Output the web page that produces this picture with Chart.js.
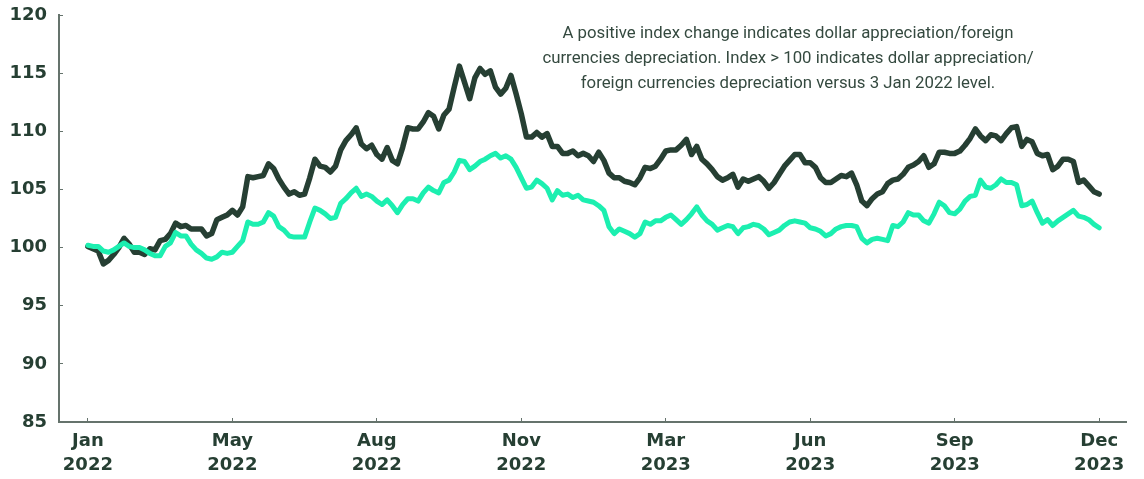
<!DOCTYPE html>
<html>
<head>
<meta charset="utf-8">
<script src="https://cdn.jsdelivr.net/npm/chart.js@4"></script>
<style>
  html, body { margin: 0; padding: 0; background: #ffffff; }
  #wrap { position: relative; width: 1144px; height: 479px; }
  #note {
    position: absolute;
    left: 488px;
    top: 20px;
    width: 600px;
    text-align: center;
    font-family: Roboto, sans-serif;
    font-size: 16.8px;
    line-height: 25px;
    color: #34493f;
  }
</style>
</head>
<body>
<div id="wrap">
  <canvas id="fxChart" width="1144" height="479"></canvas>
  <div id="note">A positive index change indicates dollar appreciation/foreign<br>currencies depreciation. Index &gt; 100 indicates dollar appreciation/<br>foreign currencies depreciation versus 3 Jan 2022 level.</div>
</div>
<script>
// Readings twice a week, 3 Jan 2022 = 100
const darkSeries = [
    100.1, 99.9, 99.7, 98.6, 98.9, 99.4, 100.0, 100.8, 100.3, 99.6,
    99.6, 99.4, 99.9, 99.8, 100.6, 100.7, 101.2, 102.1, 101.8, 101.9,
    101.6, 101.6, 101.6, 101.0, 101.2, 102.4, 102.6, 102.8, 103.2, 102.8,
    103.5, 106.1, 106.0, 106.1, 106.2, 107.2, 106.8, 105.9, 105.2, 104.6,
    104.8, 104.5, 104.6, 106.0, 107.6, 107.0, 106.9, 106.5, 107.0, 108.4,
    109.2, 109.7, 110.3, 108.9, 108.5, 108.8, 108.0, 107.6, 108.6, 107.5,
    107.2, 108.6, 110.3, 110.2, 110.2, 110.8, 111.6, 111.3, 110.2, 111.4,
    111.9, 113.8, 115.6, 114.2, 112.8, 114.6, 115.4, 114.9, 115.2, 113.8,
    113.2, 113.7, 114.8, 113.2, 111.5, 109.5, 109.5, 109.9, 109.5, 109.8,
    108.7, 108.7, 108.1, 108.1, 108.3, 107.9, 108.1, 107.9, 107.4, 108.2,
    107.5, 106.4, 106.0, 106.0, 105.7, 105.6, 105.4, 106.0, 106.9, 106.8,
    107.0, 107.6, 108.3, 108.4, 108.4, 108.8, 109.3, 108.0, 108.7, 107.6,
    107.2, 106.7, 106.1, 105.8, 106.0, 106.3, 105.2, 105.9, 105.7, 105.9,
    106.1, 105.7, 105.1, 105.6, 106.3, 107.0, 107.5, 108.0, 108.0, 107.3,
    107.3, 106.9, 106.0, 105.6, 105.6, 105.9, 106.2, 106.1, 106.4, 105.4,
    104.0, 103.6, 104.2, 104.6, 104.8, 105.5, 105.8, 105.9, 106.3, 106.9,
    107.1, 107.4, 107.9, 106.9, 107.2, 108.2, 108.2, 108.1, 108.1, 108.3,
    108.8, 109.4, 110.2, 109.6, 109.2, 109.7, 109.6, 109.2, 109.8, 110.3,
    110.4, 108.7, 109.3, 109.1, 108.1, 107.9, 108.0, 106.7, 107.0, 107.6,
    107.6, 107.4, 105.6, 105.8, 105.3, 104.8, 104.6
];
const lightSeries = [
    100.2, 100.1, 100.1, 99.7, 99.6, 99.8, 100.1, 100.4, 100.1, 100.0,
    100.0, 99.8, 99.5, 99.3, 99.3, 100.1, 100.4, 101.3, 101.0, 101.0,
    100.3, 99.8, 99.5, 99.1, 99.0, 99.2, 99.6, 99.5, 99.6, 100.1,
    100.6, 102.2, 102.0, 102.0, 102.2, 103.0, 102.7, 101.8, 101.5, 101.0,
    100.9, 100.9, 100.9, 102.2, 103.4, 103.2, 102.9, 102.5, 102.6, 103.8,
    104.2, 104.7, 105.1, 104.4, 104.6, 104.4, 104.0, 103.7, 104.1, 103.6,
    103.0, 103.7, 104.2, 104.2, 104.0, 104.7, 105.2, 104.9, 104.7, 105.6,
    105.8, 106.5, 107.5, 107.4, 106.7, 107.0, 107.4, 107.6, 107.9, 108.1,
    107.7, 107.9, 107.6, 106.9, 106.0, 105.1, 105.2, 105.8, 105.5, 105.1,
    104.1, 104.9, 104.5, 104.6, 104.3, 104.5, 104.1, 104.0, 103.9, 103.6,
    103.2, 101.8, 101.2, 101.6, 101.4, 101.2, 100.9, 101.2, 102.2, 102.0,
    102.3, 102.3, 102.6, 102.8, 102.4, 102.0, 102.4, 102.9, 103.5, 102.8,
    102.3, 102.0, 101.5, 101.7, 101.9, 101.8, 101.2, 101.7, 101.8, 102.0,
    101.9, 101.6, 101.1, 101.3, 101.5, 101.9, 102.2, 102.3, 102.2, 102.1,
    101.7, 101.6, 101.4, 101.0, 101.2, 101.6, 101.8, 101.9, 101.9, 101.8,
    100.8, 100.4, 100.7, 100.8, 100.7, 100.6, 101.9, 101.8, 102.2, 103.0,
    102.8, 102.8, 102.3, 102.1, 102.9, 103.9, 103.6, 103.0, 102.9, 103.3,
    104.0, 104.4, 104.5, 105.8, 105.2, 105.1, 105.4, 105.9, 105.6, 105.6,
    105.4, 103.6, 103.7, 104.0, 103.0, 102.1, 102.4, 101.9, 102.3, 102.6,
    102.9, 103.2, 102.7, 102.6, 102.4, 102.0, 101.7
];
const tickLabels = [
    ['Jan', '2022'], ['May', '2022'], ['Aug', '2022'], ['Nov', '2022'],
    ['Mar', '2023'], ['Jun', '2023'], ['Sep', '2023'], ['Dec', '2023']
];
const pointsPerTick = 28;
const yTicks = [85, 90, 95, 100, 105, 110, 115, 120];

const darkGreen = '#263f33';
const mint = '#1cefb0';
const axisGrey = '#65736c';
const tickFont = { family: 'DejaVu Sans', size: 18, weight: 'bold', lineHeight: 1.3 };

function toPoints(values) {
    return values.map((v, i) => ({ x: i, y: v }));
}

document.addEventListener('DOMContentLoaded', function() {
    initializeChart();
});

function initializeChart() {
    const ctx = document.getElementById('fxChart');
    if (!ctx) return;

    new Chart(ctx, {
        type: 'line',
        data: {
            datasets: [{
                label: 'Light series',
                data: toPoints(lightSeries),
                borderColor: mint,
                borderWidth: 5,
                pointRadius: 0,
                tension: 0,
                borderJoinStyle: 'round',
                borderCapStyle: 'round'
            }, {
                label: 'Dark series',
                data: toPoints(darkSeries),
                borderColor: darkGreen,
                borderWidth: 5.5,
                pointRadius: 0,
                tension: 0,
                borderJoinStyle: 'round',
                borderCapStyle: 'round'
            }]
        },
        options: {
            responsive: false,
            animation: false,
            layout: {
                padding: { left: 11, right: 18, top: 15, bottom: 0 }
            },
            plugins: {
                legend: { display: false },
                tooltip: { enabled: false }
            },
            scales: {
                x: {
                    type: 'linear',
                    min: -5.6,
                    max: 201.2,
                    afterBuildTicks: function(scale) {
                        scale.ticks = tickLabels.map((_, k) => ({ value: k * pointsPerTick }));
                    },
                    afterFit: function(scale) {
                        scale.height = 57;
                    },
                    border: { color: axisGrey, width: 2 },
                    grid: {
                        drawOnChartArea: false,
                        color: axisGrey,
                        tickLength: -4,
                        tickWidth: 1
                    },
                    ticks: {
                        autoSkip: false,
                        maxRotation: 0,
                        padding: 12,
                        color: darkGreen,
                        font: tickFont,
                        callback: function(value) {
                            return tickLabels[Math.round(value / pointsPerTick)];
                        }
                    }
                },
                y: {
                    min: 85,
                    max: 120,
                    afterBuildTicks: function(scale) {
                        scale.ticks = yTicks.map(v => ({ value: v }));
                    },
                    afterFit: function(scale) {
                        scale.width = 48;
                        scale.paddingTop = 0;
                        scale.paddingBottom = 0;
                    },
                    border: { color: axisGrey, width: 2 },
                    grid: {
                        drawOnChartArea: false,
                        color: axisGrey,
                        tickLength: -4,
                        tickWidth: 1
                    },
                    ticks: {
                        padding: 16,
                        color: darkGreen,
                        font: tickFont
                    }
                }
            }
        }
    });
}
</script>
</body>
</html>
